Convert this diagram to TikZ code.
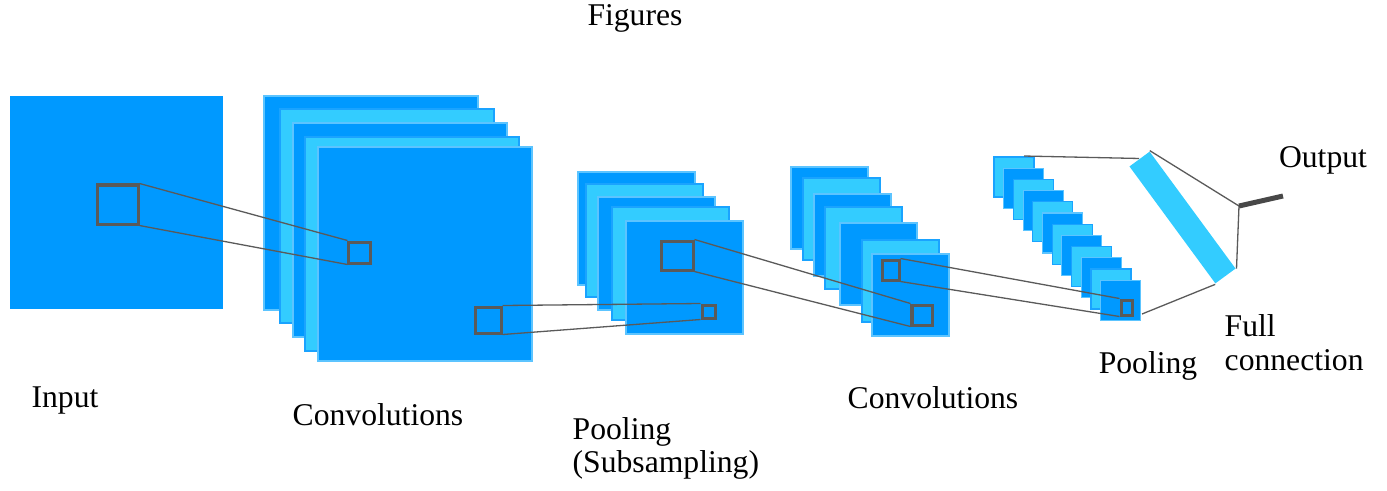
\documentclass[tikz,border=0pt]{standalone}
\usepackage{fontspec}
\setmainfont{Liberation Serif}
\newfontfamily\labelfont{Liberation Serif}
\definecolor{mapdark}{HTML}{0099FF}
\definecolor{maplight}{HTML}{33CCFF}
\definecolor{darkedge}{HTML}{5CC4FF}
\definecolor{lightedge}{HTML}{1AA3FF}
\definecolor{winline}{HTML}{5A5A5A}
\tikzset{
  win/.style={draw=winline, line width=0.03cm, inner sep=0pt},
  link/.style={draw=winline, line width=0.013cm},
  lbl/.style={font=\labelfont\fontsize{9}{9.6}\selectfont, inner sep=0pt, align=left}
}

\begin{document}
\begin{tikzpicture}[x=0.01cm, y=-0.01cm]
        \useasboundingbox (0,0) rectangle (1387,490);
        % input map
        \fill[mapdark] (10,96) rectangle (223,309);
        % first convolutions
        \foreach \x/\y/\f/\b in {264/96/mapdark/darkedge, 280/109/maplight/lightedge, 293/123/mapdark/darkedge, 305/137/maplight/lightedge, 318/147/mapdark/darkedge} {
          \draw[fill=\f, draw=\b, line width=0.3pt] (\x,\y) rectangle ++(214,214);
        }
        % first pooling
        \foreach \x/\y/\f/\b in {578/172/mapdark/darkedge, 586/184/maplight/lightedge, 598/197/mapdark/darkedge, 612/207/maplight/lightedge, 626/221/mapdark/darkedge} {
          \draw[fill=\f, draw=\b, line width=0.3pt] (\x,\y) rectangle ++(117,113);
        }
        % second convolutions
        \foreach \x/\y/\f/\b in {791/167/mapdark/darkedge, 803/178/maplight/lightedge, 814/194/mapdark/darkedge, 825/207/maplight/lightedge, 840/223/mapdark/darkedge, 862/240/maplight/lightedge, 872/254/mapdark/darkedge} {
          \draw[fill=\f, draw=\b, line width=0.3pt] (\x,\y) rectangle ++(77,82);
        }
        % second pooling
        \foreach \i [evaluate=\i as \x using 994+9.7*\i, evaluate=\i as \y using 157+11.2*\i] in {0,...,11} {
          \ifodd\i \def\f{mapdark}\def\b{darkedge}\else \def\f{maplight}\def\b{lightedge}\fi
          \draw[fill=\f, draw=\b, line width=0.3pt] (\x,\y) rectangle ++(40,40);
        }
        \coordinate (p2top) at (1024,156);
        \coordinate (p2end) at (1142,314);
        % full connection
        \node[fill=maplight, inner sep=0pt, minimum width=1.45cm, minimum height=0.25cm, rotate=-53.7] (fc) at (1182.5,217.5) {};
        \coordinate (out0) at (1239,206);
        \coordinate (out1) at (1283,196);
        % windows
        \node[win, minimum width=0.40cm, minimum height=0.39cm] (inwin) at (118,204.5) {};
        \node[win, minimum width=0.21cm, minimum height=0.21cm] (c1in) at (359.5,252.5) {};
        \node[win, minimum width=0.25cm, minimum height=0.26cm] (c1out) at (488.5,320) {};
        \node[win, minimum width=0.13cm, minimum height=0.13cm] (p1in) at (708.5,311.5) {};
        \node[win, minimum width=0.31cm, minimum height=0.29cm] (p1out) at (677.5,255.5) {};
        \node[win, minimum width=0.20cm, minimum height=0.20cm] (c2in) at (922,315) {};
        \node[win, minimum width=0.17cm, minimum height=0.20cm] (c2out) at (890.5,270) {};
        \node[win, minimum width=0.11cm, minimum height=0.15cm] (p2in) at (1126.5,307.5) {};
        % connections
        \draw[link] (inwin.north east) -- (c1in.north west);
        \draw[link] (inwin.south east) -- (c1in.south west);
        \draw[link] (c1out.north east) -- (p1in.north west);
        \draw[link] (c1out.south east) -- (p1in.south west);
        \draw[link] (p1out.north east) -- (c2in.north west);
        \draw[link] (p1out.south east) -- (c2in.south west);
        \draw[link] (c2out.north east) -- (p2in.north west);
        \draw[link] (c2out.south east) -- (p2in.south west);
        \draw[link] (p2top) -- (fc.west);
        \draw[link] (fc.north west) -- (out0);
        \draw[link] (out0) -- (fc.north east);
        \draw[link] (fc.south east) -- (p2end);
        \draw[line width=0.05cm, winline!80!black] (out0) -- (out1);
        % labels
        \node[lbl] (title) at (635,18) {Figures};
        \node[lbl] (inlbl) at (65,400) {Input};
        \node[lbl] (c1lbl) at (378,415) {Convolutions};
        \node[lbl, anchor=west] (p1lbl) at (572,448.5) {Pooling\\(Subsampling)};
        \node[lbl] (c2lbl) at (933,398) {Convolutions};
        \node[lbl] (p2lbl) at (1148,366) {Pooling};
        \node[lbl, anchor=west] (fclbl) at (1224,342.5) {Full\\connection};
        \node[lbl] (outlbl) at (1323,160) {Output};
\end{tikzpicture}
\end{document}
